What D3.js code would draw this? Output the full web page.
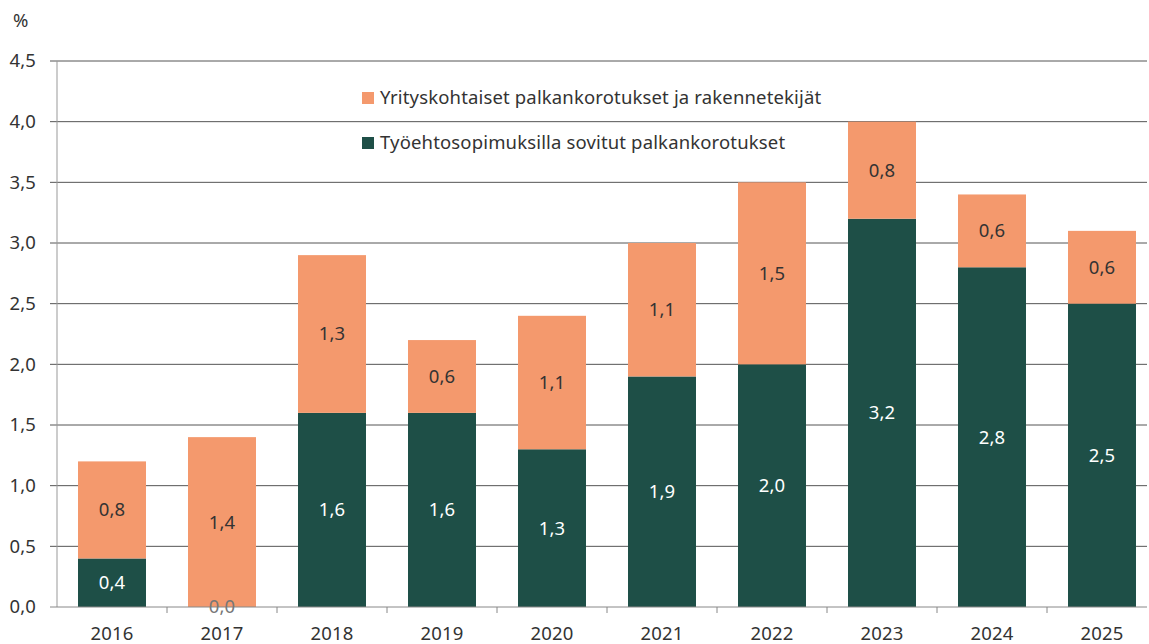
<!DOCTYPE html>
<html>
<head>
<meta charset="utf-8">
<script src="https://cdn.jsdelivr.net/npm/d3@7"></script>
<style>
  body { margin: 0; background: #fff; }
  text { font-family: "Noto Sans", "Open Sans", sans-serif; font-size: 18.5px; letter-spacing: 0.15px; }
</style>
</head>
<body>
<div id="chart"></div>
<script>
const years = ["2016", "2017", "2018", "2019", "2020", "2021", "2022", "2023", "2024", "2025"];
const agreed = [0.4, 0.0, 1.6, 1.6, 1.3, 1.9, 2.0, 3.2, 2.8, 2.5];
const company = [0.8, 1.4, 1.3, 0.6, 1.1, 1.1, 1.5, 0.8, 0.6, 0.6];
const yTicks = [0, 0.5, 1, 1.5, 2, 2.5, 3, 3.5, 4, 4.5];
const legendLabels = ["Yrityskohtaiset palkankorotukset ja rakennetekijät", "Työehtosopimuksilla sovitut palkankorotukset"];

const width = 1149, height = 644;
const margin = {top: 61, right: 2, bottom: 37, left: 57};
const green = "#1e4f47", orange = "#f4996d";
const fmt = v => v.toFixed(1).replace(".", ",");

const svg = d3.select("#chart").append("svg")
  .attr("width", width)
  .attr("height", height);

// bands are 110px wide, the last one runs a little past the frame
const x = d3.scaleBand()
  .domain(years)
  .range([margin.left, margin.left + 110 * years.length])
  .paddingInner(0.382)
  .paddingOuter(0.191);

const y = d3.scaleLinear()
  .domain([0, 4.5])
  .range([height - margin.bottom, margin.top]);

// gridlines
svg.append("g")
  .selectAll("line")
  .data(yTicks.filter(d => d > 0))
  .enter().append("line")
    .attr("x1", margin.left - 7)
    .attr("x2", width - margin.right)
    .attr("y1", d => y(d))
    .attr("y2", d => y(d))
    .style("stroke", "#555")
    .style("stroke-width", 1);

// y tick labels
svg.append("g")
  .selectAll("text")
  .data(yTicks)
  .enter().append("text")
    .attr("x", 36)
    .attr("y", d => y(d))
    .attr("dy", "0.35em")
    .attr("text-anchor", "end")
    .style("fill", "#333")
    .text(fmt);

svg.append("text")
  .attr("x", 13)
  .attr("y", 27)
  .style("fill", "#333")
  .text("%");

// stacked bars
const stack = years.map((yr, i) => ({year: yr, a: agreed[i], c: company[i]}));

const bars = svg.append("g");
bars.selectAll("rect.agreed")
  .data(stack)
  .enter().append("rect")
    .attr("class", "agreed")
    .attr("x", d => x(d.year))
    .attr("width", x.bandwidth())
    .attr("y", d => y(d.a))
    .attr("height", d => y(0) - y(d.a))
    .attr("fill", green);

bars.selectAll("rect.company")
  .data(stack)
  .enter().append("rect")
    .attr("class", "company")
    .attr("x", d => x(d.year))
    .attr("width", x.bandwidth())
    .attr("y", d => y(d.a + d.c))
    .attr("height", d => y(d.a) - y(d.a + d.c))
    .attr("fill", orange);

// y axis line
svg.append("line")
  .attr("x1", margin.left).attr("x2", margin.left)
  .attr("y1", y(4.5)).attr("y2", y(0))
  .style("stroke", "#999");

// x axis
const xAxis = svg.append("g")
  .attr("transform", `translate(0,${y(0)})`);
xAxis.append("line")
  .attr("x1", margin.left - 7).attr("x2", width - margin.right)
  .style("stroke", "#888");
const boundary = d => x(d) + x.bandwidth() + (x.step() - x.bandwidth()) / 2;
xAxis.selectAll("line.tick")
  .data(years.slice(0, -1))
  .enter().append("line")
    .attr("class", "tick")
    .attr("x1", boundary)
    .attr("x2", boundary)
    .attr("y1", 0).attr("y2", 6)
    .style("stroke", "#888");
xAxis.selectAll("text")
  .data(years)
  .enter().append("text")
    .attr("x", d => x(d) + x.bandwidth() / 2)
    .attr("y", 33)
    .attr("text-anchor", "middle")
    .style("fill", "#333")
    .text(d => d);

// value labels
svg.append("g").selectAll("text")
  .data(stack)
  .enter().append("text")
    .attr("x", d => x(d.year) + x.bandwidth() / 2)
    .attr("y", d => y(d.a / 2))
    .attr("dy", "0.35em")
    .attr("text-anchor", "middle")
    .style("fill", d => d.a > 0 ? "#fff" : "#777")
    .text(d => fmt(d.a));

svg.append("g").selectAll("text")
  .data(stack)
  .enter().append("text")
    .attr("x", d => x(d.year) + x.bandwidth() / 2)
    .attr("y", d => y(d.a + d.c / 2))
    .attr("dy", "0.35em")
    .attr("text-anchor", "middle")
    .style("fill", "#333")
    .text(d => fmt(d.c));

// legend
const legend = svg.append("g");
[orange, green].forEach((col, i) => {
  legend.append("rect")
    .attr("x", 362).attr("y", 92 + i * 45)
    .attr("width", 12).attr("height", 12)
    .attr("fill", col);
  legend.append("text")
    .attr("x", 380).attr("y", 98 + i * 45)
    .attr("dy", "0.35em")
    .style("fill", "#333")
    .text(legendLabels[i]);
});
</script>
</body>
</html>
